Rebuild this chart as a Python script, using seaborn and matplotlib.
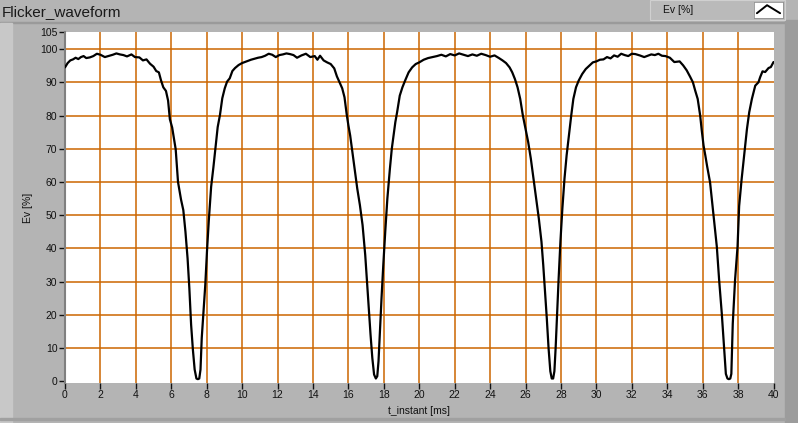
import matplotlib
matplotlib.use('Agg')
import numpy as np
import pandas as pd
import matplotlib.pyplot as plt
import seaborn as sns
from matplotlib.patches import Rectangle

# Ev [%] waveform, one list pair per 10 ms period
t_ms_1 = [0.0, 0.15, 0.3, 0.45, 0.6, 0.75, 0.9, 1.05, 1.2, 1.4, 1.6, 1.8, 2.0, 2.25, 2.5,
          2.7, 2.9, 3.1, 3.3, 3.5, 3.75, 3.95, 4.2, 4.4, 4.6, 4.8, 5.0, 5.15, 5.3, 5.42,
          5.55, 5.7, 5.82, 5.92, 6.05, 6.15, 6.25, 6.38, 6.55, 6.68, 6.8, 6.92, 7.02, 7.12,
          7.22, 7.32, 7.42, 7.5, 7.58, 7.65, 7.72, 7.8, 7.92, 8.02, 8.12, 8.25, 8.38, 8.5,
          8.62, 8.75, 8.88, 9.02, 9.15, 9.3, 9.45, 9.6, 9.8]
ev_1 = [94.5, 95.8, 96.6, 96.9, 97.4, 97.0, 97.6, 97.9, 97.3, 97.5, 97.9, 98.6, 98.3, 97.6, 98.0,
        98.3, 98.7, 98.4, 98.2, 97.8, 98.4, 97.6, 97.5, 96.6, 96.9, 95.6, 94.7, 93.4, 93.0, 90.6,
        88.5, 87.4, 84.5, 78.9, 76.4, 73.0, 69.8, 60.0, 54.7, 51.5, 45.0, 37.0, 28.0, 17.0,
        9.5, 3.5, 0.8, 0.6, 0.8, 3.5, 13.0, 19.5, 29.0, 39.5, 48.5, 58.5, 64.5, 70.5,
        76.5, 80.2, 85.2, 88.2, 90.2, 91.2, 93.4, 94.3, 95.2]

t_ms_2 = [10.0, 10.25, 10.5, 10.7, 10.9, 11.1, 11.3, 11.5, 11.7, 11.9, 12.1, 12.3, 12.5, 12.7,
          12.9, 13.1, 13.35, 13.6, 13.85, 14.1, 14.25, 14.4, 14.6, 14.8, 15.0, 15.2, 15.35,
          15.5, 15.65, 15.78, 15.9, 16.0, 16.1, 16.2, 16.35, 16.5, 16.65, 16.8, 16.95, 17.05,
          17.15, 17.25, 17.35, 17.45, 17.55, 17.63, 17.7, 17.78, 17.87, 17.97, 18.08, 18.2,
          18.34, 18.45, 18.55, 18.65, 18.75, 18.9, 19.05, 19.2, 19.4, 19.6, 19.8]
ev_2 = [95.8, 96.3, 96.8, 97.1, 97.4, 97.6, 98.0, 98.6, 98.3, 97.6, 98.2, 98.4, 98.7, 98.5,
        98.2, 97.4, 98.1, 98.6, 97.6, 97.9, 96.8, 98.0, 96.6, 96.0, 95.5, 94.2, 91.8,
        90.0, 88.2, 85.5, 80.5, 77.0, 74.0, 70.0, 64.0, 58.0, 53.0, 47.0, 38.0, 30.0,
        22.0, 14.0, 7.0, 2.0, 0.8, 1.5, 6.0, 15.0, 25.0, 35.0, 45.0, 55.0,
        63.8, 70.0, 74.0, 78.0, 81.0, 86.0, 88.5, 90.5, 93.0, 94.5, 95.5]

t_ms_3 = [20.0, 20.25, 20.5, 20.75, 21.0, 21.25, 21.5, 21.75, 22.0, 22.25, 22.5, 22.75, 23.0,
          23.25, 23.5, 23.75, 24.0, 24.25, 24.5, 24.7, 24.9, 25.1, 25.25, 25.4, 25.55, 25.7,
          25.85, 26.0, 26.15, 26.3, 26.45, 26.6, 26.75, 26.9, 27.0, 27.1, 27.2, 27.3, 27.4,
          27.48, 27.56, 27.63, 27.7, 27.78, 27.87, 27.97, 28.08, 28.2, 28.32, 28.45, 28.58,
          28.7, 28.85, 29.0, 29.2, 29.4, 29.6, 29.8]
ev_3 = [96.0, 96.8, 97.3, 97.6, 97.9, 98.3, 97.8, 98.5, 98.1, 98.7, 98.3, 97.9, 98.4,
        98.0, 98.6, 98.2, 97.7, 98.1, 97.3, 96.6, 95.8, 94.5, 93.0, 91.0, 88.5, 85.0,
        80.0, 76.0, 72.0, 67.0, 61.0, 55.0, 49.0, 42.0, 35.0, 27.0, 19.0, 10.0, 3.0,
        0.8, 0.8, 3.0, 10.0, 20.0, 31.0, 42.0, 52.0, 61.0, 68.0, 74.0, 80.0,
        85.0, 88.5, 90.5, 92.5, 94.0, 95.0, 96.0]

t_ms_4 = [30.0, 30.2, 30.4, 30.6, 30.8, 31.0, 31.2, 31.4, 31.6, 31.8, 32.0, 32.2, 32.45, 32.7,
          32.9, 33.1, 33.3, 33.5, 33.7, 33.9, 34.15, 34.4, 34.7, 34.9, 35.1, 35.3, 35.45,
          35.58, 35.72, 35.86, 35.95, 36.05, 36.15, 36.25, 36.42, 36.6, 36.8, 36.93, 37.08,
          37.21, 37.31, 37.4, 37.48, 37.56, 37.62, 37.7, 37.83, 37.97, 38.06, 38.2, 38.34,
          38.5, 38.63, 38.78, 38.97, 39.15, 39.25, 39.38, 39.53, 39.72, 39.85, 40.0]
ev_4 = [96.3, 96.8, 96.9, 97.6, 97.2, 98.1, 97.7, 98.6, 98.2, 97.9, 98.6, 98.5, 98.1, 97.6,
        98.0, 98.4, 98.2, 98.6, 98.0, 97.9, 97.4, 96.1, 96.3, 95.1, 93.6, 91.6, 90.0,
        87.5, 85.0, 80.0, 75.5, 71.0, 68.0, 64.8, 59.8, 50.7, 40.5, 30.5, 20.4,
        10.2, 2.2, 0.8, 0.6, 0.8, 2.2, 17.3, 30.5, 40.5, 52.7, 60.8, 67.8,
        75.9, 81.0, 85.0, 89.0, 90.0, 91.6, 93.3, 93.1, 94.3, 94.6, 96.1]

x_ticks = list(range(0, 41, 2))
y_ticks = [0, 10, 20, 30, 40, 50, 60, 70, 80, 90, 100, 105]

W, H = 798, 423
BG = '#b4b4b4'
GRID = '#cc6600'


def box(x0, y0, x1, y1):
    """pixel box (top-left origin) -> figure fraction rect"""
    return [x0 / W, 1 - y1 / H, (x1 - x0) / W, (y1 - y0) / H]


def frame_rect(x0, y0, x1, y1, **kw):
    r = box(x0, y0, x1, y1)
    fig.patches.append(Rectangle((r[0], r[1]), r[2], r[3], transform=fig.transFigure,
                                 zorder=-5, **kw))


df = pd.DataFrame({
    't_instant': t_ms_1 + t_ms_2 + t_ms_3 + t_ms_4,
    'Ev': ev_1 + ev_2 + ev_3 + ev_4,
})

sns.set_theme(style='white')
plt.rcParams['font.family'] = ['Liberation Sans', 'DejaVu Sans']

fig = plt.figure(figsize=(W / 100, H / 100), dpi=100)
fig.patch.set_facecolor(BG)

# panel frame bits
frame_rect(0, 22, 798, 23, color='#9a9a9a')
frame_rect(0, 23, 12, 423, color='#c8c8c8')
frame_rect(785, 20, 798, 423, color='#9c9c9c')
frame_rect(0, 418, 785, 420, color='#a0a0a0')
frame_rect(650, 0, 785, 20, facecolor='#bababa', edgecolor='#d0d0d0', lw=0.8)

ax = fig.add_axes(box(65, 32.5, 773.5, 382.5))
ax.set_facecolor('white')

for x in x_ticks[1:-1]:
    ax.axvline(x, color=GRID, lw=1.1, zorder=1)
for y in y_ticks[1:-1]:
    ax.axhline(y, color=GRID, lw=1.1, zorder=1)

sns.lineplot(data=df, x='t_instant', y='Ev', ax=ax, color='black', lw=1.6,
             estimator=None, sort=False, zorder=3)

ax.set_xlim(0, 40)
ax.set_ylim(-0.4, 105)
ax.set_xticks(x_ticks)
ax.set_yticks(y_ticks)
ax.tick_params(axis='both', direction='out', length=4, width=1, color='#111111',
               labelsize=7.5, pad=1.5, labelcolor='#111111')
ax.tick_params(axis='y', left=True)
ax.tick_params(axis='x', bottom=True)

for side in ['top', 'right', 'bottom']:
    ax.spines[side].set_visible(False)
ax.spines['left'].set_color('#808080')
ax.spines['left'].set_linewidth(1.5)

ax.set_xlabel('t_instant [ms]', fontsize=7.5, labelpad=4, color='#111111')
ax.set_ylabel('Ev [%]', fontsize=7.5, labelpad=5, color='#111111')

fig.text(2 / W, 1 - 12 / H, 'Flicker_waveform', fontsize=11, ha='left', va='center',
         color='#1a1a1a')

# legend: label plus white swatch with the plot icon
fig.text(663 / W, 1 - 10 / H, 'Ev [%]', fontsize=7.5, ha='left', va='center',
         color='#111111')
lax = fig.add_axes(box(754, 2, 783, 18))
lax.set_facecolor('white')
lax.plot([0.1, 0.45, 0.9], [0.3, 0.8, 0.3], color='black', lw=1.4)
lax.set_xlim(0, 1)
lax.set_ylim(0, 1)
lax.set_xticks([])
lax.set_yticks([])
for s in lax.spines.values():
    s.set_edgecolor('#909090')
    s.set_linewidth(0.6)

fig.savefig('out.png', dpi=100, facecolor=fig.get_facecolor())
